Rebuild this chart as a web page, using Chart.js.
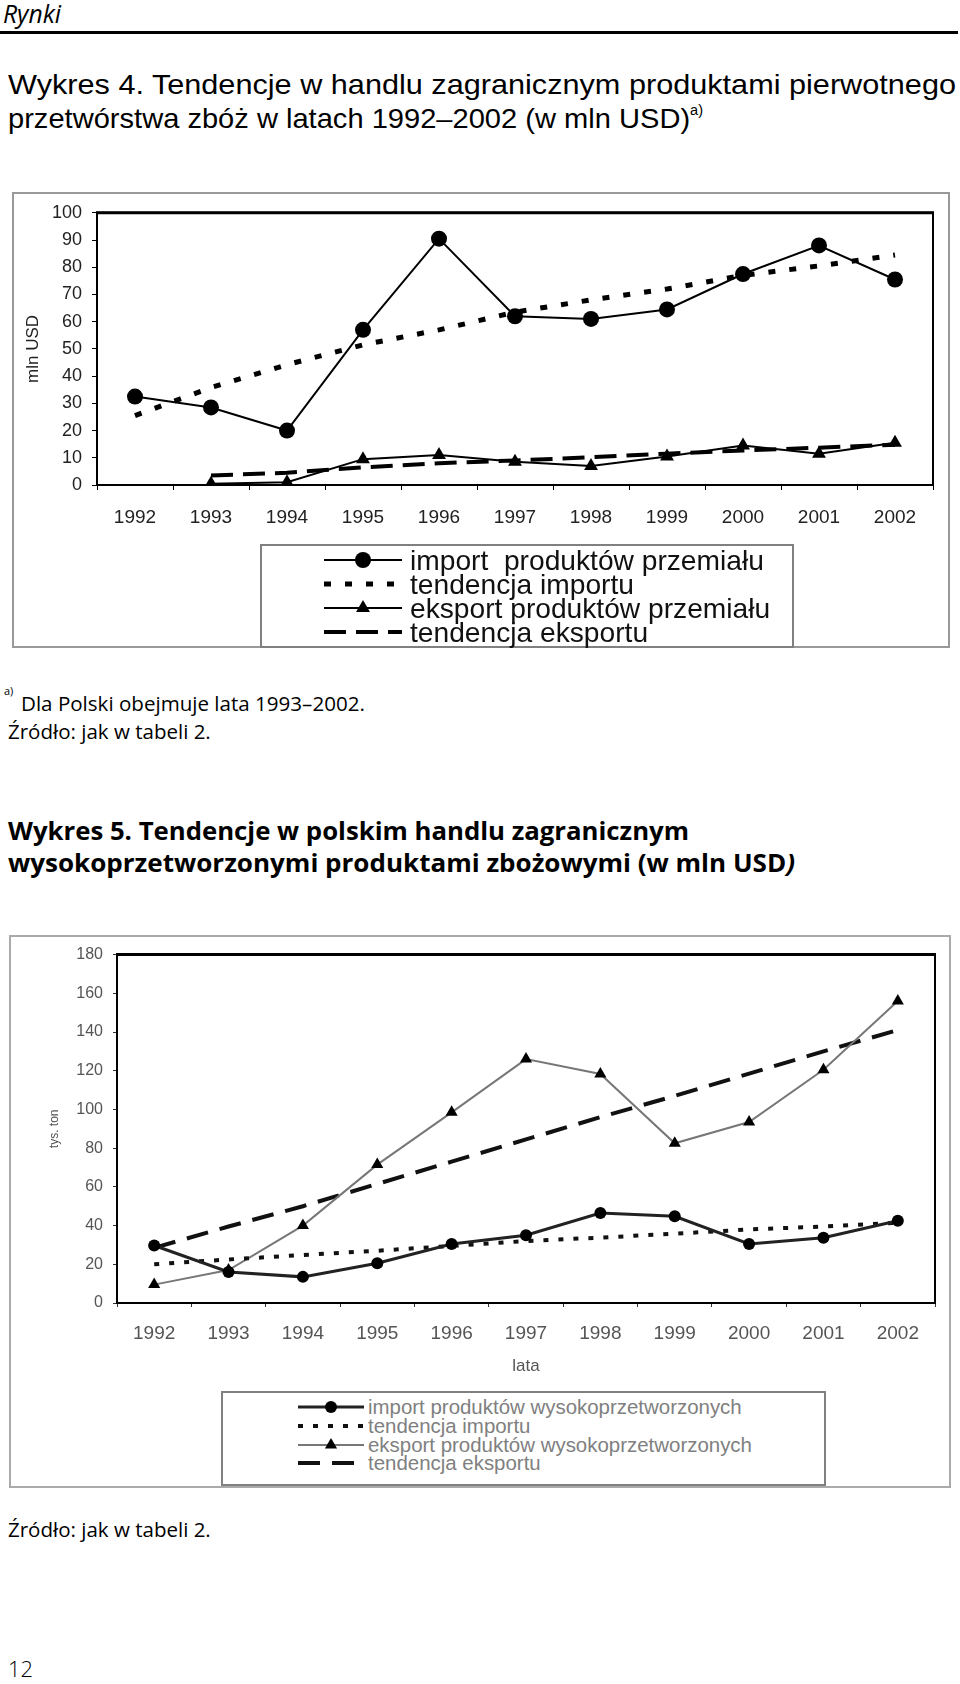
<!DOCTYPE html>
<html>
<head>
<meta charset="utf-8">
<script src="https://cdn.jsdelivr.net/npm/chart.js@4/dist/chart.umd.min.js"></script>
<style>
  body { margin: 0; width: 960px; height: 1684px; position: relative; background: #fff; color: #000; font-family: "Open Sans", sans-serif; overflow: hidden; }
  .t { position: absolute; white-space: pre; line-height: 1; transform: translateY(-50%); transform-origin: 0 50%; }
  .box { position: absolute; box-sizing: border-box; border: 2px solid #999; }
  .wrap { position: absolute; }
  .leg { position: absolute; box-sizing: border-box; border: 2px solid #808080; background: #fff; }
  .sym { position: absolute; }
  .lt { position: absolute; white-space: pre; line-height: 1; transform: translateY(-50%); font-family: "Liberation Sans", Arial, sans-serif; }
</style>
</head>
<body>

<div class="t" style="left:3px;top:14px;font-style:italic" data-w="58">Rynki</div>
<div style="position:absolute;left:0;top:31px;width:958px;height:3px;background:#000"></div>

<div class="t" style="left:8px;top:85px;font-family:'Liberation Sans',sans-serif" data-w="948" data-fs="28">Wykres 4. Tendencje w handlu zagranicznym produktami pierwotnego</div>
<div class="t" style="left:8px;top:118px;font-family:'Liberation Sans',sans-serif" data-w="695" data-fs="28">przetwórstwa zbóż w latach 1992–2002 (w mln USD)<sup style="font-size:0.5em;vertical-align:0.9em">a)</sup></div>

<div class="box" style="left:12px;top:192px;width:938px;height:456px"></div>
<div class="wrap" style="left:12px;top:192px;width:938px;height:456px"><canvas id="chart1"></canvas></div>
<div class="leg" id="leg1" style="left:260px;top:544px;width:534px;height:104px"></div>

<div class="t" style="left:4px;top:690px;font-size:11px">a)</div>
<div class="t" style="left:21px;top:703px" data-w="344">Dla Polski obejmuje lata 1993–2002.</div>
<div class="t" style="left:8px;top:731px" data-w="203">Źródło: jak w tabeli 2.</div>

<div class="t" style="left:8px;top:830px;font-weight:700" data-w="681" data-fs="25">Wykres 5. Tendencje w polskim handlu zagranicznym</div>
<div class="t" style="left:8px;top:862px;font-weight:700" data-w="787" data-fs="25">wysokoprzetworzonymi produktami zbożowymi (w mln USD<i>)</i></div>

<div class="box" style="left:9px;top:935px;width:942px;height:553px;border-color:#aaa"></div>
<div class="wrap" style="left:9px;top:935px;width:942px;height:553px"><canvas id="chart2"></canvas></div>
<div class="leg" id="leg2" style="left:221px;top:1391px;width:605px;height:95px"></div>

<div class="t" style="left:8px;top:1529px" data-w="203">Źródło: jak w tabeli 2.</div>
<div class="t" style="left:8px;top:1669px;font-weight:300" data-w="25">12</div>

<script>
const years = ['1992', '1993', '1994', '1995', '1996', '1997', '1998', '1999', '2000', '2001', '2002'];

// Wykres 4 - produkty przemialu (mln USD)
const import1      = [32.5, 28.5, 20, 57, 90.5, 62, 61, 64.5, 77.5, 88, 75.5];
const importTrend1 = [25.5, 35.8, 44.2, 51.5, 57, 63.5, 68, 72, 77, 80.5, 84.5];
const export1      = [null, 0.5, 1, 9.5, 11, 8.5, 7, 10.5, 14.5, 11.5, 15.5];
const exportTrend1 = [null, 3.5, 4.5, 6.5, 8, 9, 10.2, 11.5, 12.7, 13.7, 14.8];
const yTicks1 = [0, 10, 20, 30, 40, 50, 60, 70, 80, 90, 100];
const legend1 = ['import  produktów przemiału', 'tendencja importu', 'eksport produktów przemiału', 'tendencja eksportu'];

// Wykres 5 - produkty wysokoprzetworzone
const import2      = [29.7, 16, 13.5, 20.5, 30.5, 35, 46.5, 44.8, 30.5, 33.7, 42.5];
const importTrend2 = [20, 22.5, 24.8, 27, 29.5, 32, 33.8, 35.8, 38, 39.5, 41.5];
const export2      = [9.5, 17, 40, 71.5, 98.5, 126, 118.3, 82.5, 93.5, 120.5, 156];
const exportTrend2 = [28.5, 39.5, 50, 61.5, 73, 84.5, 96, 107, 118.5, 130, 141];
const yTicks2 = [0, 20, 40, 60, 80, 100, 120, 140, 160, 180];
const legend2 = ['import produktów wysokoprzetworzonych', 'tendencja importu', 'eksport produktów wysokoprzetworzonych', 'tendencja eksportu'];

const FONT = '"Liberation Sans", Arial, sans-serif';

// fit page texts to the widths measured on the scan;
// with data-fs the size is kept and the text is squeezed instead (condensed faces)
document.querySelectorAll('[data-w]').forEach(el => {
  if (el.dataset.fs) {
    el.style.fontSize = el.dataset.fs + 'px';
    const w = el.getBoundingClientRect().width;
    el.style.transform = 'translateY(-50%) scaleX(' + (el.dataset.w / w) + ')';
    return;
  }
  el.style.fontSize = '20px';
  const w = el.getBoundingClientRect().width;
  el.style.fontSize = (20 * el.dataset.w / w) + 'px';
});

const series1 = [
  { label: legend1[0], data: import1,      color: '#000', width: 2, marker: 'circle',   r: 8 },
  { label: legend1[1], data: importTrend1, color: '#000', width: 5, dash: [7, 14] },
  { label: legend1[2], data: export1,      color: '#000', width: 2, marker: 'triangle', r: 8 },
  { label: legend1[3], data: exportTrend1, color: '#000', width: 4, dash: [22, 10] }
];
const series2 = [
  { label: legend2[0], data: import2,      color: '#222', width: 3, marker: 'circle',   r: 6 },
  { label: legend2[1], data: importTrend2, color: '#111', width: 4, dash: [5, 10] },
  { label: legend2[2], data: export2,      color: '#777', width: 2, marker: 'triangle', r: 7 },
  { label: legend2[3], data: exportTrend2, color: '#111', width: 4, dash: [22, 12] }
];

function toDataset(s) {
  return {
    label: s.label,
    data: s.data,
    borderColor: s.color,
    borderWidth: s.width,
    borderDash: s.dash || [],
    borderCapStyle: 'butt',
    pointStyle: s.marker || 'circle',
    pointRadius: s.marker ? s.r : 0,
    pointBackgroundColor: '#000',
    pointBorderColor: '#000',
    pointBorderWidth: 0,
    tension: 0,
    fill: false
  };
}

// full black frame round the plot area, like the Excel original
const frame = {
  id: 'frame',
  beforeDatasetsDraw(chart, args, o) {
    const { ctx, chartArea: a } = chart;
    ctx.save();
    ctx.strokeStyle = '#000';
    ctx.lineWidth = o.width;
    ctx.strokeRect(a.left, a.top, a.width, a.height);
    ctx.lineWidth = o.top;
    ctx.beginPath();
    ctx.moveTo(a.left - 1, a.top);
    ctx.lineTo(a.right + 1, a.top);
    ctx.stroke();
    ctx.restore();
  }
};

function makeChart(id, series, c) {
  return new Chart(document.getElementById(id), {
    type: 'line',
    data: { labels: years, datasets: series.map(toDataset) },
    plugins: [frame],
    options: {
      responsive: true,
      maintainAspectRatio: false,
      animation: false,
      layout: { padding: c.pad },
      plugins: {
        legend: { display: false },
        tooltip: { enabled: false },
        frame: { width: 2, top: c.topLine }
      },
      scales: {
        x: {
          type: 'category',
          offset: true,
          grid: { offset: true, drawOnChartArea: false, drawTicks: true, tickLength: c.tick, color: c.tickColor },
          border: { display: false },
          ticks: { font: { family: FONT, size: c.xFont }, color: c.textColor, padding: c.xPad, maxRotation: 0, autoSkip: false },
          title: c.xTitle
            ? { display: true, text: c.xTitle, font: { family: FONT, size: 17 }, color: c.textColor, padding: { top: 0, bottom: 6 } }
            : { display: false },
          afterFit(s) { s.height = c.xHeight; }
        },
        y: {
          min: 0,
          max: c.yTicks[c.yTicks.length - 1],
          afterBuildTicks(s) { s.ticks = c.yTicks.map(v => ({ value: v })); },
          grid: { drawOnChartArea: false, drawTicks: true, tickLength: c.tick, color: c.tickColor },
          border: { display: false },
          ticks: { font: { family: FONT, size: c.yFont }, color: c.textColor, padding: 10 },
          title: { display: true, text: c.yTitle, font: { family: FONT, size: c.yTitleFont }, color: c.textColor, padding: { top: c.yTitlePad, bottom: 0 } },
          afterFit(s) { s.width = c.yWidth; }
        }
      }
    }
  });
}

makeChart('chart1', series1, {
  pad: { left: 0, top: 20, right: 17, bottom: 111 },
  yWidth: 85, xHeight: 52, tick: 5, tickColor: '#000', textColor: '#222',
  xFont: 19, yFont: 18, xPad: 16, topLine: 3,
  yTicks: yTicks1, yTitle: 'mln USD', yTitleFont: 17, yTitlePad: 11
});

makeChart('chart2', series2, {
  pad: { left: 0, top: 17, right: 16, bottom: 105 },
  yWidth: 108, xHeight: 80, tick: 4, tickColor: '#333', textColor: '#555',
  xFont: 19, yFont: 16, xPad: 15, topLine: 3,
  yTicks: yTicks2, yTitle: 'tys. ton', yTitleFont: 12, yTitlePad: 38,
  xTitle: 'lata'
});

// legends: line samples drawn as svg with the same styles as the datasets
function symbol(s, w) {
  const h = 24, m = h / 2;
  let g = '<line x1="0" y1="' + m + '" x2="' + w + '" y2="' + m + '" stroke="' + s.color + '" stroke-width="' + s.width + '"' +
    (s.dash ? ' stroke-dasharray="' + s.dash.join(' ') + '"' : '') + '/>';
  if (s.marker === 'circle') g += '<circle cx="' + w / 2 + '" cy="' + m + '" r="' + s.r + '" fill="#000"/>';
  if (s.marker === 'triangle') {
    const r = s.r, x = w / 2;
    g += '<polygon points="' + x + ',' + (m - r) + ' ' + (x + r * 0.87) + ',' + (m + r * 0.5) + ' ' + (x - r * 0.87) + ',' + (m + r * 0.5) + '" fill="#000"/>';
  }
  return '<svg width="' + w + '" height="' + h + '">' + g + '</svg>';
}

function buildLegend(boxId, series, o) {
  const box = document.getElementById(boxId);
  const bx = box.offsetLeft, by = box.offsetTop;
  let size = 20;
  series.forEach((s, i) => {
    const y = o.rows[i];
    const sym = document.createElement('div');
    sym.className = 'sym';
    sym.style.left = (o.symX - bx - 2) + 'px';
    sym.style.top = (y - by - 2 - 12) + 'px';
    sym.innerHTML = symbol(s, o.symW);
    box.appendChild(sym);
    const t = document.createElement('div');
    t.className = 'lt';
    t.textContent = s.label;
    t.style.left = (o.textX - bx - 2) + 'px';
    t.style.top = (y - by - 2) + 'px';
    t.style.color = o.color;
    t.style.fontSize = size + 'px';
    box.appendChild(t);
    if (i === 0) {
      size = 20 * o.firstW / t.getBoundingClientRect().width;
      t.style.fontSize = size + 'px';
    }
  });
}

buildLegend('leg1', series1, { rows: [560, 584, 608, 632], symX: 324, symW: 78, textX: 410, firstW: 354, color: '#111' });
buildLegend('leg2', series2, { rows: [1407, 1426, 1445, 1463], symX: 298, symW: 66, textX: 368, firstW: 374, color: '#808080' });
</script>
</body>
</html>
